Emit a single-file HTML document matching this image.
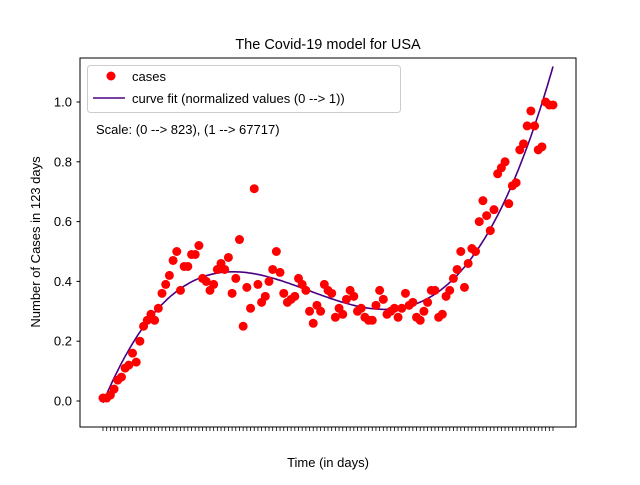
<!DOCTYPE html>
<html><head><meta charset="utf-8"><style>
body{margin:0;background:#fff}
svg text{font-family:"Liberation Sans","DejaVu Sans",sans-serif;fill:#000}
</style></head><body>
<svg id="chart" width="640" height="480" xmlns="http://www.w3.org/2000/svg">
<rect width="640" height="480" fill="#fff"/>
<text x="328" y="49" font-size="14.5" text-anchor="middle">The Covid-19 model for USA</text>
<text x="328" y="467" font-size="13" text-anchor="middle">Time (in days)</text>
<text transform="translate(40,242) rotate(-90)" font-size="13" text-anchor="middle">Number of Cases in 123 days</text>
<g id="yticks"></g>
<g id="xticks"></g>
<path id="fit" fill="none" stroke="#4b0082" stroke-width="1.6"/>
<g id="pts"></g>
<rect x="80" y="58" width="496" height="369" fill="none" stroke="#000" stroke-width="1"/>
<g>
<rect x="87.5" y="65.5" width="313" height="47" rx="3" fill="#fff" fill-opacity="0.8" stroke="#ccc"/>
<circle cx="111" cy="76" r="4.5" fill="#ff0000"/>
<text x="132" y="81" font-size="13">cases</text>
<line x1="93" y1="98" x2="125" y2="98" stroke="#4b0082" stroke-width="1.6"/>
<text x="132" y="103" font-size="13">curve fit (normalized values (0 --&gt; 1))</text>
</g>
<text x="96" y="134" font-size="13">Scale: (0 --&gt; 823), (1 --&gt; 67717)</text>
</svg>
<script>
const cases = [0.01,0.01,0.02,0.04,0.07,0.08,0.11,0.12,0.16,0.13,0.20,
0.25,0.27,0.29,0.27,0.31,0.36,0.39,0.42,0.47,0.50,
0.37,0.45,0.45,0.49,0.49,0.52,0.41,0.40,0.37,0.39,
0.44,0.46,0.44,0.48,0.36,0.41,0.54,0.25,0.38,0.31,
0.71,0.39,0.33,0.35,0.40,0.44,0.50,0.43,0.36,0.33,
0.34,0.35,0.41,0.39,0.37,0.30,0.26,0.32,0.30,0.39,
0.37,0.36,0.28,0.31,0.29,0.34,0.37,0.35,0.30,0.31,
0.28,0.27,0.27,0.32,0.37,0.34,0.29,0.30,0.31,0.28,
0.31,0.36,0.32,0.33,0.28,0.27,0.30,0.33,0.37,0.37,
0.28,0.29,0.35,0.37,0.41,0.44,0.50,0.38,0.46,0.51,
0.50,0.60,0.67,0.62,0.57,0.64,0.76,0.78,0.80,0.66,0.72,0.73,0.84,0.86,0.92,0.97,0.92,0.84,0.85,1.00,0.99,0.99];
const yTickLabels = ["0.0","0.2","0.4","0.6","0.8","1.0"];
const yTickValues = [0,0.2,0.4,0.6,0.8,1.0];
const NS="http://www.w3.org/2000/svg";
const n=cases.length;
function X(d){return 103+d*(450/(n-1));}
function Y(v){return 401-v*299;}
const svg=document.getElementById('chart');
function mk(t,a,p){const e=document.createElementNS(NS,t);for(const k in a)e.setAttribute(k,a[k]);p.appendChild(e);return e;}
const yt=document.getElementById('yticks');
yTickValues.forEach((v,i)=>{
 const l=mk('line',{x1:76.5,x2:80,y1:Y(v),y2:Y(v),stroke:'#000'},yt);
 
 
 const t=mk('text',{x:72,y:Y(v)+4.5,'font-size':13,'text-anchor':'end'},yt);
 
 
 t.textContent=yTickLabels[i];
});
const xt=document.getElementById('xticks');
for(let d=0;d<n;d++){
 const l=mk('line',{x1:X(d),x2:X(d),y1:427,y2:431,stroke:'#000','stroke-width':0.8},xt);
 
 
}
// cubic least-squares fit
const s=x=>x/(n-1);
const M=[[0,0,0,0],[0,0,0,0],[0,0,0,0],[0,0,0,0]],b=[0,0,0,0];
cases.forEach((v,d)=>{const p=[1,s(d),s(d)**2,s(d)**3];for(let i=0;i<4;i++){b[i]+=p[i]*v;for(let j=0;j<4;j++)M[i][j]+=p[i]*p[j];}});
for(let i=0;i<4;i++){for(let k=i+1;k<4;k++){const f=M[k][i]/M[i][i];for(let j=i;j<4;j++)M[k][j]-=f*M[i][j];b[k]-=f*b[i];}}
const c=[0,0,0,0];for(let i=3;i>=0;i--){let t=b[i];for(let j=i+1;j<4;j++)t-=M[i][j]*c[j];c[i]=t/M[i][i];}
let dpath='';for(let d=0;d<=n-1;d+=0.5){const x=s(d);const v=c[0]+c[1]*x+c[2]*x*x+c[3]*x*x*x;dpath+=(d?'L':'M')+X(d).toFixed(1)+','+Y(v).toFixed(1);}
document.getElementById('fit').setAttribute('d',dpath);
const pts=document.getElementById('pts');
cases.forEach((v,d)=>{
 const e=mk('circle',{cx:X(d),cy:Y(v),r:4.5,fill:'#ff0000'},pts);
 
 
});
</script>
</body></html>
